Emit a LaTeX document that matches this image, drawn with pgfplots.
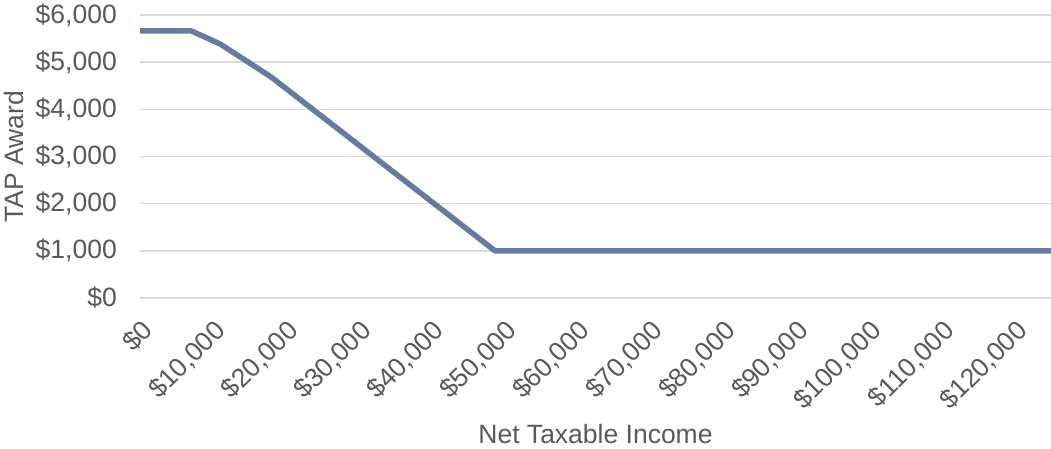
\documentclass[border=0pt]{standalone}
\usepackage{pgfplots}
\pgfplotsset{compat=1.18}
\usepackage{fontspec}
\setmainfont{Liberation Sans}
\definecolor{linecol}{RGB}{103,123,161}
\definecolor{gridcol}{RGB}{217,217,217}
\definecolor{txtcol}{RGB}{89,89,89}
\begin{document}
\begin{tikzpicture}
\begin{axis}[
  scale only axis,
  width=911bp, height=283bp,
  xmin=0, xmax=125000, ymin=0, ymax=6000,
  axis line style={draw=none},
  major tick length=0pt,
  ymajorgrids, grid style={gridcol, line width=1.5bp},
  xtick={0,10000,20000,30000,40000,50000,60000,70000,80000,90000,100000,110000,120000},
  xticklabels={{\$0},{\$10,000},{\$20,000},{\$30,000},{\$40,000},{\$50,000},{\$60,000},{\$70,000},{\$80,000},{\$90,000},{\$100,000},{\$110,000},{\$120,000}},
  ytick={0,1000,2000,3000,4000,5000,6000},
  yticklabels={{\$0},{\$1,000},{\$2,000},{\$3,000},{\$4,000},{\$5,000},{\$6,000}},
  scaled ticks=false,
  tick label style={font=\fontsize{26.5bp}{31bp}\selectfont, text=txtcol},
  xticklabel style={rotate=45, anchor=north east, inner sep=0pt},
  xticklabel shift=20bp,
  yticklabel style={anchor=east, inner sep=0pt},
  yticklabel shift=23bp,
  xlabel={Net Taxable Income},
  ylabel={TAP Award},
  label style={font=\fontsize{26.5bp}{31bp}\selectfont, text=txtcol},
  xlabel style={at={([yshift=-145bp]axis description cs:0.5,0)}, anchor=base, inner sep=0pt},
  ylabel style={at={([xshift=-126bp]axis description cs:0,0.5)}, anchor=center, rotate=0},
]
\addplot[linecol, line width=5.5bp, line join=round] coordinates {
  (0,5665) (7000,5665) (11000,5385) (18000,4685) (48708,1000) (125000,1000)
};
\end{axis}
\pgfresetboundingbox
\useasboundingbox (-140bp,-151bp) rectangle (911bp,298bp);
\end{tikzpicture}
\end{document}
